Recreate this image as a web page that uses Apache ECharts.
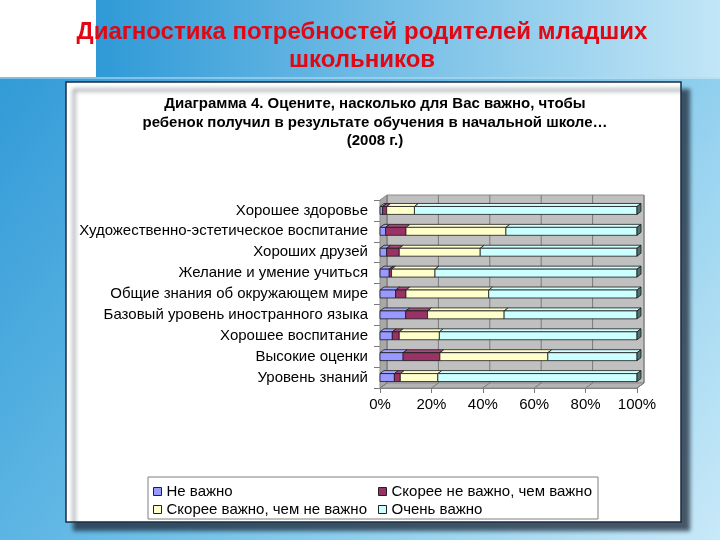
<!DOCTYPE html>
<html><head><meta charset="utf-8">
<script src="https://cdn.jsdelivr.net/npm/echarts@6/dist/echarts.min.js"></script>
<style>html,body{margin:0;padding:0;}#c{width:720px;height:540px;}</style>
</head><body><div id="c"></div>
<script>
const categories = ['Хорошее здоровье','Художественно-эстетическое воспитание','Хороших друзей','Желание и умение учиться','Общие знания об окружающем мире','Базовый уровень иностранного языка','Хорошее воспитание','Высокие оценки','Уровень знаний'];
const seriesNames = ['Не важно','Скорее не важно, чем важно','Скорее важно, чем не важно','Очень важно'];
const notImportant    = [1.0, 2.2, 2.6, 3.6, 6.1, 10.0, 4.8, 9.0, 5.6];
const ratherNot       = [1.6, 7.9, 4.9, 0.9, 4.0, 8.5, 2.7, 14.3, 2.3];
const ratherImportant = [10.8, 38.9, 31.5, 16.9, 32.2, 29.8, 15.6, 42.0, 14.6];
const veryImportant   = [86.6, 51.0, 61.0, 78.6, 57.7, 51.7, 76.9, 34.7, 77.5];
const xTicks = [0, 20, 40, 60, 80, 100];
const colors = ['#9999ff','#993366','#ffffcc','#ccffff'];

const values = [notImportant, ratherNot, ratherImportant, veryImportant];
const DX = 7, DY = 5; // wall depth
const BDX = 4, BDY = 3; // bar depth

function segData(k){
  return categories.map((c,i)=>{
    let s = 0; for(let j=0;j<k;j++) s += values[j][i];
    return [s, s+values[k][i], i];
  });
}

function renderBar(params, api){
  const s = api.value(0), e = api.value(1), i = api.value(2);
  const p0 = api.coord([s, i]), p1 = api.coord([e, i]);
  const bh = api.size([0,1])[1]*0.38;
  const x0 = p0[0], x1 = p1[0], y0 = p0[1]-bh/2, y1 = p0[1]+bh/2;
  const col = api.visual('color');
  const st = {stroke:'#1a1a1a', lineWidth:0.8};
  const ch = [
    {type:'polygon', shape:{points:[[x0,y0],[x0+BDX,y0-BDY],[x1+BDX,y0-BDY],[x1,y0]]}, style:Object.assign({fill:echarts.color.lift(col,0.12)},st)},
    {type:'rect', shape:{x:x0,y:y0,width:x1-x0,height:y1-y0}, style:Object.assign({fill:col},st)}
  ];
  if (params.seriesIndex === 4) {
    ch.push({type:'polygon', shape:{points:[[x1,y0],[x1+BDX,y0-BDY],[x1+BDX,y1-BDY],[x1,y1]]}, style:Object.assign({fill:'#4f7272'},st)});
  }
  return {type:'group', children:ch};
}

function renderWalls(params, api){
  const cs = params.coordSys;
  const x = cs.x, y = cs.y, w = cs.width, h = cs.height;
  const ch = [
    {type:'rect', shape:{x:x+DX,y:y-DY,width:w,height:h}, style:{fill:'#c0c0c0', stroke:'#8c8c8c', lineWidth:1}},
    {type:'polygon', shape:{points:[[x,y+h],[x,y],[x+DX,y-DY],[x+DX,y+h-DY]]}, style:{fill:'#a8a8a8', stroke:'#8c8c8c', lineWidth:1}},
    {type:'polygon', shape:{points:[[x,y+h],[x+w,y+h],[x+w+DX,y+h-DY],[x+DX,y+h-DY]]}, style:{fill:'#b4b4b4', stroke:'#8c8c8c', lineWidth:1}}
  ];
  xTicks.forEach(v=>{
    const px = api.coord([v,0])[0]+DX;
    ch.push({type:'line', shape:{x1:px,y1:y-DY,x2:px,y2:y+h-DY}, style:{stroke:'#7a7a7a', lineWidth:1}});
    const fx = api.coord([v,0])[0];
    ch.push({type:'line', shape:{x1:px,y1:y+h-DY,x2:fx,y2:y+h}, style:{stroke:'#7a7a7a', lineWidth:1}});
  });
  return {type:'group', children:ch};
}

const chart = echarts.init(document.getElementById('c'), null, {renderer:'canvas'});
const font = 'Liberation Sans, Arial, sans-serif';

const legendPos = [[153,484],[378,484],[153,502],[378,502]];

const option = {
  animation:false,
  textStyle:{fontFamily:font},
  graphic:[
    {type:'rect', z:-10, shape:{x:0,y:0,width:720,height:540}, style:{fill:new echarts.graphic.LinearGradient(0,0,1,1,[{offset:0,color:'#2b96d5'},{offset:0.5,color:'#6fc0e8'},{offset:1,color:'#c8e9f8'}])}},
    {type:'rect', z:-9, shape:{x:96,y:0,width:624,height:77}, style:{fill:new echarts.graphic.LinearGradient(0,0,1,0,[{offset:0,color:'#2f9ad7'},{offset:1,color:'#c2e6f6'}])}},
    {type:'rect', z:-9, shape:{x:0,y:0,width:96,height:77}, style:{fill:'#ffffff'}},
    {type:'rect', z:-9, shape:{x:0,y:77,width:720,height:2}, style:{fill:'rgba(255,255,255,0.35)'}},
    {type:'rect', z:-8, shape:{x:66,y:82,width:615,height:440}, style:{fill:'#ffffff', stroke:'#1d2b45', lineWidth:1.5, shadowColor:'rgba(30,40,55,0.75)', shadowOffsetX:8, shadowOffsetY:8, shadowBlur:4}},
    {type:'rect', z:-7, shape:{x:148,y:477,width:450,height:42}, style:{fill:'#ffffff', stroke:'#7f7f7f', lineWidth:1}}
  ],
  title:[
    {text:'Диагностика потребностей родителей младших\nшкольников', left:357, textAlign:'center', top:13,
     textStyle:{color:'#e30613', fontSize:24, fontWeight:'bold', lineHeight:28, fontFamily:font}},
    {text:'Диаграмма 4. Оцените, насколько для Вас важно, чтобы\nребенок получил в результате обучения в начальной школе…\n(2008 г.)', left:370, textAlign:'center', top:90,
     textStyle:{color:'#000', fontSize:15, fontWeight:'bold', lineHeight:18.5, fontFamily:font}}
  ],
  legend: seriesNames.map((n,k)=>({
    data:[{name:n, itemStyle:{color:colors[k], borderColor:'#222', borderWidth:1}}],
    left:legendPos[k][0], top:legendPos[k][1], icon:'rect', itemWidth:8, itemHeight:8, itemGap:0,
    selectedMode:false, textStyle:{fontSize:15, color:'#000', fontFamily:font}, padding:0
  })),
  grid:{left:380, top:200, width:257, height:188},
  xAxis:{type:'value', min:0, max:100, interval:20,
    axisLabel:{formatter:'{value}%', fontSize:15, color:'#000', margin:9, fontFamily:font},
    axisLine:{show:true, lineStyle:{color:'#7a7a7a'}}, axisTick:{show:true, length:5, lineStyle:{color:'#7a7a7a'}},
    splitLine:{show:false}},
  yAxis:{type:'category', data:categories, inverse:true,
    axisLabel:{fontSize:15, color:'#000', margin:12, fontFamily:font},
    axisLine:{show:true, lineStyle:{color:'#7a7a7a'}}, axisTick:{show:true, length:6, lineStyle:{color:'#7a7a7a'}},
    splitLine:{show:false}},
  series:[
    {type:'custom', name:'walls', silent:true, z:1, data:[[0,0,0]], renderItem:renderWalls, encode:{x:0,y:2}},
  ].concat(seriesNames.map((n,k)=>({
    type:'custom', name:n, z:2, itemStyle:{color:colors[k]}, data:segData(k), renderItem:renderBar, encode:{x:[0,1], y:2}
  })))
};
chart.setOption(option);
</script></body></html>
